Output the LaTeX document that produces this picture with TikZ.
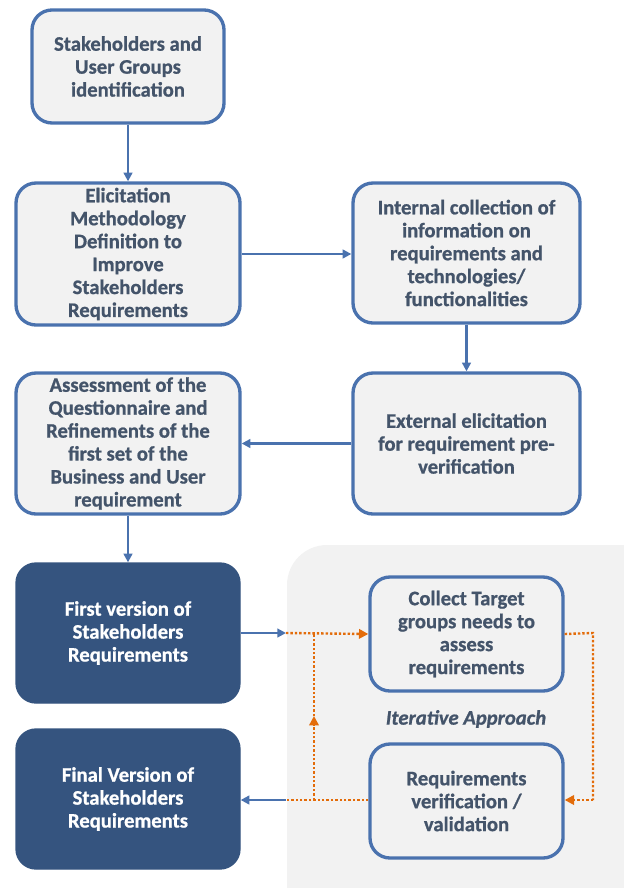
\documentclass[tikz,border=0pt]{standalone}
\usepackage{fontspec}
\setmainfont{Carlito}[BoldFont={Carlito Bold},BoldItalicFont={Carlito Bold Italic},BoldFeatures={FakeBold=0.8},BoldItalicFeatures={FakeBold=0.8}]
\usetikzlibrary{arrows.meta}
\definecolor{boxfill}{HTML}{F2F2F2}
\definecolor{boxline}{HTML}{4A72AE}
\definecolor{txt}{HTML}{44546A}
\definecolor{darkbox}{HTML}{35547F}
\definecolor{orng}{HTML}{E36C0A}
\tikzset{
  lightbox/.style={draw=boxline, line width=2.5pt, fill=boxfill, rounded corners=15pt,
    text=txt, font=\fontsize{15.5}{17.2}\selectfont\bfseries, align=center, inner sep=0pt},
  darkstep/.style={draw=darkbox, line width=1pt, fill=darkbox, rounded corners=15pt,
    text=white, font=\fontsize{15.5}{17.2}\selectfont\bfseries, align=center, inner sep=0pt,
    minimum width=168pt, minimum height=105pt},
  bluearrow/.style={draw=boxline, line width=1.6pt, -{Triangle[width=6.5pt,length=6.5pt]}},
  orangeline/.style={draw=orng, line width=1.8pt, dash pattern=on 1.8pt off 1.5pt},
  orangearrow/.style={orangeline, -{Triangle[width=7pt,length=7pt]}},
}
\begin{document}
\begin{tikzpicture}[x=0.75pt,y=-0.75pt]
\useasboundingbox (0,0) rectangle (624,888);
\begin{scope}
\clip (0,0) rectangle (624,888);
\fill[boxfill, rounded corners=30pt] (287,545) rectangle (680,940);
\end{scope}

\node[lightbox, minimum width=144pt, minimum height=84.75pt] (b1) at (128,66.5)
  {Stakeholders and\\User Groups\\identification};
\node[lightbox, minimum width=168pt, minimum height=106.5pt] (b2) at (128,254)
  {Elicitation\\Methodology\\Definition to\\Improve\\Stakeholders\\Requirements};
\node[lightbox, minimum width=170.25pt, minimum height=105pt] (b3) at (466.5,253)
  {Internal collection of\\information on\\requirements and\\technologies/\\functionalities};
\node[lightbox, minimum width=168pt, minimum height=105.75pt] (b4) at (128,443.5)
  {Assessment of the\\Questionnaire and\\Refinements of the\\first set of the\\Business and User\\requirement};
\node[lightbox, minimum width=170.25pt, minimum height=105.75pt] (b5) at (466.5,443.5)
  {External elicitation\\for requirement pre-\\verification};
\node[darkstep] (d1) at (128,633) {First version of\\Stakeholders\\Requirements};
\node[darkstep] (d2) at (128,799) {Final Version of\\Stakeholders\\Requirements};
\node[lightbox, minimum width=144.75pt, minimum height=85.5pt] (c1) at (466.5,634)
  {Collect Target\\groups needs to\\assess\\requirements};
\node[lightbox, minimum width=144.75pt, minimum height=85.5pt] (c2) at (466.5,801)
  {Requirements\\verification /\\validation};
\node[text=txt, font=\fontsize{15.5}{17.2}\selectfont\bfseries\itshape] (it) at (466,719) {Iterative Approach};

\coordinate (inA) at (286,633);
\coordinate (outB) at (286,800);
\coordinate (rt1) at (593,633);
\coordinate (rt2) at (593,800);
\coordinate (lp1) at (314,800);
\coordinate (lpm) at (314,716);
\coordinate (lp2) at (314,633);

\draw[bluearrow] (b1.south) -- (b2.north);
\draw[bluearrow] (b2.east) -- (b3.west |- b2.east);
\draw[bluearrow] (b3.south) -- (b5.north);
\draw[bluearrow] (b5.west) -- (b4.east);
\draw[bluearrow] (b4.south) -- (d1.north);
\draw[bluearrow] (d1.east) -- (inA);
\draw[orangearrow] (inA) -- (c1.west);
\draw[orangeline] (c1.east) -- (rt1) -- (rt2);
\draw[orangearrow] (rt2) -- (c2.east |- rt2);
\draw[orangeline] (c2.west |- outB) -- (outB);
\draw[bluearrow] (outB) -- (d2.east |- outB);
\draw[orangearrow] (lp1) -- (lpm);
\draw[orangeline] (lpm) -- (lp2);
\end{tikzpicture}
\end{document}
